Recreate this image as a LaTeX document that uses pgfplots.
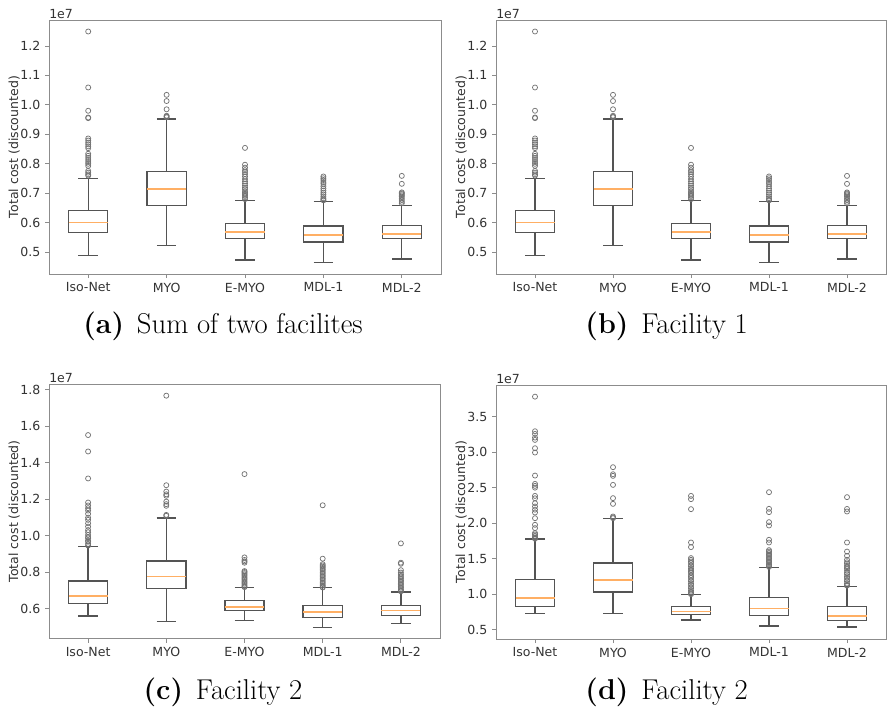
\documentclass[border=0pt]{standalone}
\usepackage{fontspec}
\usepackage{pgfplots}
\pgfplotsset{compat=1.18}
\usepgfplotslibrary{statistics}

\newfontfamily\mplfont{DejaVu Sans}
\newcommand\tickfont{\mplfont\fontsize{9.4}{11}\selectfont}
\newcommand\capfont{\fontsize{21.5}{25}\selectfont}

\definecolor{framegray}{gray}{0.55}
\definecolor{boxgray}{gray}{0.33}
\definecolor{outgray}{gray}{0.45}
\definecolor{labelgray}{gray}{0.2}
\definecolor{medorange}{RGB}{255,175,100}

\pgfplotsset{
  panel/.style={
    scale only axis,
    xmin=0.5, xmax=5.5,
    xtick={1,2,3,4,5},
    xticklabels={Iso-Net,MYO,E-MYO,MDL-1,MDL-2},
    tick pos=left,
    tick align=outside,
    major tick length=3pt,
    axis line style={draw=framegray, line width=0.7pt},
    tick style={draw=framegray, line width=0.6pt},
    tick label style={font=\tickfont, text=labelgray},
    scaled y ticks=false,
    yticklabel style={/pgf/number format/.cd, fixed, fixed zerofill, precision=1, assume math mode=true},
    ylabel={Total cost (discounted)},
    ylabel style={font=\tickfont, text=labelgray, at={(axis description cs:-0.089,0.5)}, anchor=center},
  },
  bx/.style={
    draw=boxgray, line width=1pt,
    mark=o, mark size=1.9pt, mark options={draw=outgray, line width=0.55pt},
    boxplot/draw direction=y,
    boxplot/box extend=0.5,
    boxplot/whisker extend=0.25,
    boxplot/every median/.style={draw=medorange, line width=1.2pt},
  },
  sumticks/.style={ymin=0.426, ymax=1.288, ytick={0.5,0.6,0.7,0.8,0.9,1.0,1.1,1.2}},
}

\begin{document}
\begin{tikzpicture}
\path[use as bounding box] (0,0) rectangle (665.25pt,-530.25pt);

% ---------------- (a) Sum of two facilities ----------------
\begin{axis}[panel, sumticks, name=pa, at={(36.75pt,-15pt)}, anchor=north west,
  width=294pt, height=190.5pt]
\addplot[bx, boxplot prepared={draw position=1, lower whisker=0.488, lower quartile=0.567,
  median=0.601, upper quartile=0.641, upper whisker=0.749}]
  table[row sep=\\, y index=0] {y\\ 1.249\\ 1.059\\ 0.980\\ 0.957\\ 0.955\\ 0.886\\ 0.879\\ 0.872\\
  0.866\\ 0.859\\ 0.853\\ 0.834\\ 0.827\\ 0.820\\ 0.813\\ 0.806\\ 0.800\\ 0.793\\ 0.776\\ 0.770\\ 0.764\\ 0.760\\};
\addplot[bx, boxplot prepared={draw position=2, lower whisker=0.523, lower quartile=0.658,
  median=0.715, upper quartile=0.773, upper whisker=0.952}]
  table[row sep=\\, y index=0] {y\\ 1.034\\ 1.013\\ 0.985\\ 0.963\\ 0.960\\ 0.958\\};
\addplot[bx, boxplot prepared={draw position=3, lower whisker=0.473, lower quartile=0.546,
  median=0.568, upper quartile=0.597, upper whisker=0.675}]
  table[row sep=\\, y index=0] {y\\ 0.854\\ 0.797\\ 0.787\\ 0.778\\ 0.772\\ 0.765\\ 0.757\\ 0.748\\
  0.740\\ 0.733\\ 0.726\\ 0.719\\ 0.714\\ 0.707\\ 0.702\\ 0.698\\ 0.695\\ 0.691\\ 0.686\\ 0.680\\};
\addplot[bx, boxplot prepared={draw position=4, lower whisker=0.464, lower quartile=0.535,
  median=0.559, upper quartile=0.589, upper whisker=0.672}]
  table[row sep=\\, y index=0] {y\\ 0.757\\ 0.751\\ 0.745\\ 0.738\\ 0.732\\ 0.724\\ 0.716\\ 0.709\\
  0.702\\ 0.696\\ 0.689\\ 0.683\\ 0.678\\ 0.676\\};
\addplot[bx, boxplot prepared={draw position=5, lower whisker=0.477, lower quartile=0.546,
  median=0.562, upper quartile=0.591, upper whisker=0.659}]
  table[row sep=\\, y index=0] {y\\ 0.759\\ 0.732\\ 0.703\\ 0.700\\ 0.697\\ 0.693\\ 0.689\\ 0.683\\
  0.677\\ 0.671\\ 0.666\\};
\end{axis}

% ---------------- (b) Facility 1 ----------------
\begin{axis}[panel, sumticks, name=pb, at={(372pt,-15pt)}, anchor=north west,
  width=292.5pt, height=190.5pt]
\addplot[bx, boxplot prepared={draw position=1, lower whisker=0.488, lower quartile=0.567,
  median=0.601, upper quartile=0.641, upper whisker=0.749}]
  table[row sep=\\, y index=0] {y\\ 1.249\\ 1.059\\ 0.980\\ 0.957\\ 0.955\\ 0.886\\ 0.879\\ 0.872\\
  0.866\\ 0.859\\ 0.853\\ 0.834\\ 0.827\\ 0.820\\ 0.813\\ 0.806\\ 0.800\\ 0.793\\ 0.776\\ 0.770\\ 0.764\\ 0.760\\};
\addplot[bx, boxplot prepared={draw position=2, lower whisker=0.523, lower quartile=0.658,
  median=0.715, upper quartile=0.773, upper whisker=0.952}]
  table[row sep=\\, y index=0] {y\\ 1.034\\ 1.013\\ 0.985\\ 0.963\\ 0.960\\ 0.958\\};
\addplot[bx, boxplot prepared={draw position=3, lower whisker=0.473, lower quartile=0.546,
  median=0.568, upper quartile=0.597, upper whisker=0.675}]
  table[row sep=\\, y index=0] {y\\ 0.854\\ 0.797\\ 0.787\\ 0.778\\ 0.772\\ 0.765\\ 0.757\\ 0.748\\
  0.740\\ 0.733\\ 0.726\\ 0.719\\ 0.714\\ 0.707\\ 0.702\\ 0.698\\ 0.695\\ 0.691\\ 0.686\\ 0.680\\};
\addplot[bx, boxplot prepared={draw position=4, lower whisker=0.464, lower quartile=0.535,
  median=0.559, upper quartile=0.589, upper whisker=0.672}]
  table[row sep=\\, y index=0] {y\\ 0.757\\ 0.751\\ 0.745\\ 0.738\\ 0.732\\ 0.724\\ 0.716\\ 0.709\\
  0.702\\ 0.696\\ 0.689\\ 0.683\\ 0.678\\ 0.676\\};
\addplot[bx, boxplot prepared={draw position=5, lower whisker=0.477, lower quartile=0.546,
  median=0.562, upper quartile=0.591, upper whisker=0.659}]
  table[row sep=\\, y index=0] {y\\ 0.759\\ 0.732\\ 0.703\\ 0.700\\ 0.697\\ 0.693\\ 0.689\\ 0.683\\
  0.677\\ 0.671\\ 0.666\\};
\end{axis}

% ---------------- (c) Facility 2 ----------------
\begin{axis}[panel, name=pc, at={(36.75pt,-288pt)}, anchor=north west,
  width=293.25pt, height=190.9pt,
  ymin=0.435, ymax=1.831, ytick={0.6,0.8,1.0,1.2,1.4,1.6,1.8}]
\addplot[bx, boxplot prepared={draw position=1, lower whisker=0.558, lower quartile=0.626,
  median=0.668, upper quartile=0.750, upper whisker=0.941}]
  table[row sep=\\, y index=0] {y\\ 1.551\\ 1.461\\ 1.313\\ 1.181\\ 1.165\\ 1.150\\ 1.137\\ 1.119\\
  1.098\\ 1.086\\ 1.067\\ 1.049\\ 1.030\\ 1.018\\ 1.003\\ 0.991\\ 0.985\\ 0.972\\ 0.966\\ 0.954\\ 0.945\\};
\addplot[bx, boxplot prepared={draw position=2, lower whisker=0.529, lower quartile=0.708,
  median=0.776, upper quartile=0.860, upper whisker=1.097}]
  table[row sep=\\, y index=0] {y\\ 1.767\\ 1.276\\ 1.241\\ 1.226\\ 1.218\\ 1.186\\ 1.172\\ 1.163\\
  1.113\\ 1.108\\};
\addplot[bx, boxplot prepared={draw position=3, lower whisker=0.534, lower quartile=0.589,
  median=0.609, upper quartile=0.644, upper whisker=0.714}]
  table[row sep=\\, y index=0] {y\\ 1.337\\ 0.880\\ 0.866\\ 0.858\\ 0.851\\ 0.805\\ 0.800\\ 0.794\\
  0.787\\ 0.780\\ 0.772\\ 0.765\\ 0.758\\ 0.750\\ 0.743\\ 0.736\\ 0.729\\ 0.722\\ 0.717\\};
\addplot[bx, boxplot prepared={draw position=4, lower whisker=0.496, lower quartile=0.551,
  median=0.580, upper quartile=0.617, upper whisker=0.714}]
  table[row sep=\\, y index=0] {y\\ 1.166\\ 0.873\\ 0.843\\ 0.836\\ 0.829\\ 0.822\\ 0.814\\ 0.806\\
  0.798\\ 0.790\\ 0.782\\ 0.774\\ 0.766\\ 0.758\\ 0.750\\ 0.742\\ 0.734\\ 0.726\\ 0.718\\ 0.715\\};
\addplot[bx, boxplot prepared={draw position=5, lower whisker=0.516, lower quartile=0.563,
  median=0.589, upper quartile=0.618, upper whisker=0.690}]
  table[row sep=\\, y index=0] {y\\ 0.957\\ 0.851\\ 0.845\\ 0.810\\ 0.797\\ 0.787\\ 0.778\\ 0.770\\
  0.762\\ 0.754\\ 0.746\\ 0.738\\ 0.730\\ 0.722\\ 0.714\\ 0.706\\ 0.700\\ 0.694\\};
\end{axis}

% ---------------- (d) Facility 2 ----------------
\begin{axis}[panel, name=pd, at={(372pt,-288.75pt)}, anchor=north west,
  width=292.5pt, height=190.5pt,
  ymin=0.369, ymax=3.945, ytick={0.5,1.0,1.5,2.0,2.5,3.0,3.5}]
\addplot[bx, boxplot prepared={draw position=1, lower whisker=0.730, lower quartile=0.828,
  median=0.950, upper quartile=1.203, upper whisker=1.775}]
  table[row sep=\\, y index=0] {y\\ 3.781\\ 3.294\\ 3.256\\ 3.205\\ 3.172\\ 3.055\\ 2.994\\ 2.670\\
  2.553\\ 2.525\\ 2.500\\ 2.384\\ 2.350\\ 2.280\\ 2.234\\ 2.190\\ 2.150\\ 2.070\\ 1.977\\ 1.930\\
  1.860\\ 1.840\\ 1.820\\ 1.800\\ 1.790\\ 1.780\\};
\addplot[bx, boxplot prepared={draw position=2, lower whisker=0.730, lower quartile=1.030,
  median=1.198, upper quartile=1.438, upper whisker=2.061}]
  table[row sep=\\, y index=0] {y\\ 2.788\\ 2.689\\ 2.666\\ 2.539\\ 2.352\\ 2.272\\ 2.094\\ 2.080\\ 2.070\\};
\addplot[bx, boxplot prepared={draw position=3, lower whisker=0.636, lower quartile=0.711,
  median=0.758, upper quartile=0.828, upper whisker=0.992}]
  table[row sep=\\, y index=0] {y\\ 2.384\\ 2.338\\ 2.197\\ 1.728\\ 1.663\\ 1.508\\ 1.484\\ 1.460\\
  1.440\\ 1.410\\ 1.390\\ 1.360\\ 1.340\\ 1.320\\ 1.300\\ 1.270\\ 1.250\\ 1.230\\ 1.200\\ 1.180\\
  1.150\\ 1.130\\ 1.100\\ 1.080\\ 1.050\\ 1.030\\ 1.010\\ 1.000\\};
\addplot[bx, boxplot prepared={draw position=4, lower whisker=0.552, lower quartile=0.697,
  median=0.800, upper quartile=0.955, upper whisker=1.372}]
  table[row sep=\\, y index=0] {y\\ 2.436\\ 2.202\\ 2.155\\ 2.014\\ 1.967\\ 1.766\\ 1.728\\ 1.620\\
  1.600\\ 1.580\\ 1.560\\ 1.540\\ 1.520\\ 1.500\\ 1.480\\ 1.460\\ 1.440\\ 1.420\\ 1.400\\ 1.385\\};
\addplot[bx, boxplot prepared={draw position=5, lower whisker=0.538, lower quartile=0.627,
  median=0.697, upper quartile=0.828, upper whisker=1.109}]
  table[row sep=\\, y index=0] {y\\ 2.366\\ 2.200\\ 2.164\\ 1.728\\ 1.600\\ 1.540\\ 1.484\\ 1.450\\
  1.430\\ 1.400\\ 1.380\\ 1.360\\ 1.330\\ 1.300\\ 1.280\\ 1.250\\ 1.230\\ 1.200\\ 1.180\\ 1.150\\
  1.130\\ 1.120\\};
\end{axis}

% offset labels
\foreach \p in {pa,pb,pc,pd}{
  \node[anchor=south west, inner sep=0pt, font=\tickfont, text=labelgray]
    at ([yshift=0.8pt]\p.north west) {1e7};
}

% sub-captions
\node[anchor=base, font=\capfont] at (167.25pt,-250.1pt) {\textbf{(a)}\hspace{0.45em}Sum of two facilites};
\node[anchor=base, font=\capfont] at (500pt,-250.1pt) {\textbf{(b)}\hspace{0.45em}Facility 1};
\node[anchor=base, font=\capfont] at (167.25pt,-524.6pt) {\textbf{(c)}\hspace{0.45em}Facility 2};
\node[anchor=base, font=\capfont] at (500pt,-524.6pt) {\textbf{(d)}\hspace{0.45em}Facility 2};
\end{tikzpicture}
\end{document}
